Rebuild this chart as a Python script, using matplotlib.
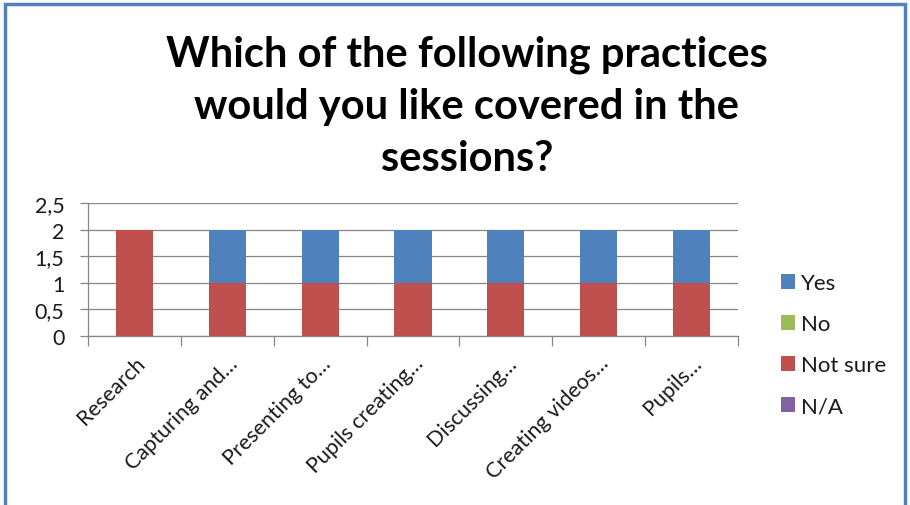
import matplotlib
matplotlib.use("Agg")
import matplotlib.pyplot as plt
from matplotlib.patches import Rectangle
import numpy as np

categories = ["Research", "Capturing and…", "Presenting to…", "Pupils creating…",
              "Discussing…", "Creating videos…", "Pupils…"]
yes = [0, 1, 1, 1, 1, 1, 1]
no = [0, 0, 0, 0, 0, 0, 0]
not_sure = [2, 1, 1, 1, 1, 1, 1]
na = [0, 0, 0, 0, 0, 0, 0]
y_ticks = [0, 0.5, 1, 1.5, 2, 2.5]
y_tick_labels = ["0", "0,5", "1", "1,5", "2", "2,5"]
title = "Which of the following practices\nwould you like covered in the\nsessions?"

colors = {"Yes": "#4F81BD", "No": "#9BBB59", "Not sure": "#C0504D", "N/A": "#8064A2"}

plt.rcParams['font.family'] = ['Lato', 'DejaVu Sans']

W, H = 910, 506
fig = plt.figure(figsize=(W / 100, H / 100), dpi=100)
fig.patch.set_facecolor("white")

# outer frame of the chart area
fig.patches.append(Rectangle((5 / W, -0.05), 900 / W, 1 - 5 / H + 0.05,
                             transform=fig.transFigure, fill=False,
                             edgecolor="#4F81BD", linewidth=2.5))

ax = fig.add_axes([88 / W, 1 - 337 / H, (738 - 88) / W, (337 - 204) / H])
x = np.arange(len(categories))
width = 0.4

bottom = np.zeros(len(categories))
handles = {}
for name, vals in [("Not sure", not_sure), ("N/A", na), ("No", no), ("Yes", yes)]:
    vals = np.array(vals, dtype=float)
    handles[name] = ax.bar(x, vals, width, bottom=bottom, color=colors[name],
                           label=name, zorder=3)
    bottom += vals

ax.set_xlim(-0.5, len(categories) - 0.5)
ax.set_ylim(0, 2.5)
ax.set_yticks(y_ticks)
ax.set_yticklabels(y_tick_labels, fontsize=15.5, color="#1a1a1a")
ax.yaxis.grid(True, color="#868686", linewidth=0.9, zorder=0)
ax.set_axisbelow(True)

ax.set_xticks(x)
ax.set_xticklabels(categories, rotation=45, ha="right", rotation_mode="anchor",
                   fontsize=15.5, color="#1a1a1a")
ax.tick_params(axis="x", length=0, pad=12)
ax.set_xticks(np.arange(-0.5, len(categories)), minor=True)
ax.tick_params(axis="x", which="minor", length=7, color="#868686", width=0.9)
ax.tick_params(axis="y", length=6, color="#868686", width=0.9, pad=11)

for side in ["top", "right"]:
    ax.spines[side].set_visible(False)
for side in ["left", "bottom"]:
    ax.spines[side].set_color("#868686")
    ax.spines[side].set_linewidth(0.9)

leg = fig.legend([handles[k] for k in ["Yes", "No", "Not sure", "N/A"]],
                 ["Yes", "No", "Not sure", "N/A"],
                 loc="upper left", bbox_to_anchor=(772 / W, 1 - 265 / H),
                 frameon=False, fontsize=16, handlelength=0.65, handleheight=0.65,
                 handletextpad=0.25, labelspacing=0.95, borderaxespad=0)
for t in leg.get_texts():
    t.set_color("#1a1a1a")

fig.text(467 / W, 1 - 107 / H, title, ha="center", va="center",
         fontsize=30, fontweight="bold", color="black", linespacing=1.45)

fig.savefig("out.png", dpi=100, facecolor="white")
